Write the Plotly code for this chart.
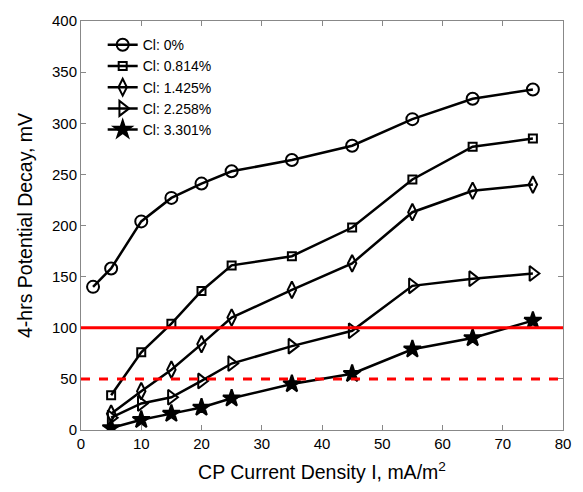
import plotly.graph_objects as go

current = [5, 10, 15, 20, 25, 35, 45, 55, 65, 75]
current_cl0 = [2, 5, 10, 15, 20, 25, 35, 45, 55, 65, 75]
cl_0 = [140, 158, 204, 227, 241, 253, 264, 278, 304, 324, 333]
cl_0814 = [34, 76, 104, 136, 161, 170, 198, 245, 277, 285]
cl_1425 = [16, 38, 59, 84, 110, 137, 163, 213, 234, 240]
cl_2258 = [12, 26, 32, 48, 65, 82, 97, 141, 148, 153]
cl_3301 = [2, 10, 16, 22, 31, 45, 55, 79, 90, 107]
limit_solid = 100
limit_dashed = 50

series = [
    ("Cl: 0%", current_cl0, cl_0, "circle-open", 12),
    ("Cl: 0.814%", current, cl_0814, "square-open", 8),
    ("Cl: 1.425%", current, cl_1425, "diamond-tall-open", 12),
    ("Cl: 2.258%", current, cl_2258, "triangle-right-open", 13),
    ("Cl: 3.301%", current, cl_3301, "star", 13),
]

FONT = "Liberation Sans, Arial"

fig = go.Figure()
for name, xs, ys, sym, size in series:
    fig.add_trace(go.Scatter(
        x=xs, y=ys, name=name, mode="lines+markers",
        line=dict(color="black", width=2.5),
        marker=dict(symbol=sym, size=size, color="black",
                    line=dict(color="black", width=2)),
    ))

fig.add_hline(y=limit_solid, line=dict(color="red", width=3))
fig.add_hline(y=limit_dashed, line=dict(color="red", width=3, dash="dash"))

axis_common = dict(
    showline=True, linecolor="#888888", linewidth=1, mirror="ticks",
    ticks="inside", ticklen=5, tickcolor="#888888",
    showgrid=False, zeroline=False, ticklabeloverflow="allow",
    tickfont=dict(family=FONT, size=15, color="black"),
)
fig.update_xaxes(range=[0, 80], dtick=10, **axis_common,
                 title=dict(text="CP Current Density I, mA/m<sup>2</sup>",
                            font=dict(family=FONT, size=19.5, color="black"),
                            standoff=14))
fig.update_yaxes(range=[0, 400], dtick=50, **axis_common,
                 title=dict(text="4-hrs Potential Decay, mV",
                            font=dict(family=FONT, size=19.5, color="black"),
                            standoff=14))

fig.update_layout(
    width=583, height=492,
    margin=dict(l=81, r=18, t=14, b=62),
    plot_bgcolor="white", paper_bgcolor="white",
    legend=dict(x=0.045, y=0.98, xanchor="left", yanchor="top",
                bgcolor="rgba(0,0,0,0)", borderwidth=0,
                font=dict(family=FONT, size=14, color="black"),
                itemwidth=30, tracegroupgap=0),
    showlegend=True,
)

fig.write_html("out.html", config={"displayModeBar": False},
               post_script="document.body.style.margin='0';")
